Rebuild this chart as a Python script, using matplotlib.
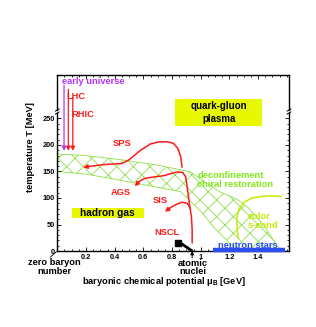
import numpy as np
import matplotlib
matplotlib.use("Agg")
import matplotlib.pyplot as plt
from matplotlib.patches import Rectangle

plt.rcParams['font.family'] = ['Liberation Sans', 'DejaVu Sans']
plt.rcParams['hatch.linewidth'] = 0.6
plt.rcParams['mathtext.fontset'] = 'custom'
plt.rcParams['mathtext.bf'] = 'Liberation Sans:bold'
plt.rcParams['mathtext.rm'] = 'Liberation Sans'

# ---- data (mu_B in GeV, T in MeV) ----
band_up_mu = [0, 0.2, 0.45, 0.7, 0.93, 1.03, 1.13, 1.25, 1.33, 1.44, 1.52, 1.56]
band_up_T = [183, 180, 172, 162, 149, 130, 112, 98, 82, 48, 15, 0]
band_lo_mu = [0, 0.2, 0.45, 0.7, 0.86, 1.0, 1.09, 1.2, 1.27]
band_lo_T = [150, 145, 133, 120, 112, 75, 45, 15, 0]

sps_mu = [0.87, 0.86, 0.84, 0.81, 0.77, 0.71, 0.65, 0.58, 0.50, 0.45, 0.32, 0.18]
sps_T = [158, 178, 194, 203, 206, 206, 202, 190, 172, 165, 163, 158]
ags_mu = [0.925, 0.91, 0.895, 0.875, 0.835, 0.79, 0.74, 0.68, 0.61, 0.57, 0.54]
ags_T = [80, 112, 140, 148, 149, 146, 142, 140, 137, 131, 122]
sis_mu = [0.94, 0.94, 0.935, 0.925, 0.905, 0.87, 0.83, 0.79, 0.75]
sis_T = [15, 40, 65, 82, 90, 92, 88, 82, 74]
nscl_mu = [0.84, 0.87, 0.935]
nscl_T = [15, 13, 1]

csc_mu = [1.56, 1.45, 1.36, 1.30, 1.265, 1.25, 1.255, 1.26]
csc_T = [103, 104, 100, 92, 78, 60, 40, 25]
ns_mu = [1.085, 1.59]
ns_T = [1.5, 1.5]

early_mu = [0.047, 0.047]
early_T = [313, 189]
lhc_mu = [0.077, 0.077]
lhc_T = [305, 189]
rhic_mu = [0.108, 0.108]
rhic_T = [290, 189]

yticks = [0, 50, 100, 150, 200, 250]
xticks = [0.2, 0.4, 0.6, 0.8, 1.0, 1.2, 1.4]
xticklabels = ['0.2', '0.4', '0.6', '0.8', '1', '1.2', '1.4']

RED = '#ff1a1a'
PURPLE = '#b233ff'
GREEN = '#8de04a'
GTEXT = '#80e81a'
YGREEN = '#c4ec00'
YELLOW = '#e8f800'
BLUE = '#2a4ef0'

fig = plt.figure(figsize=(3.16, 3.27), dpi=100)
ax = fig.add_axes([0.1813, 0.2324, 0.7332, 0.5382])
ax.set_xlim(0, 1.615)
ax.set_ylim(0, 332)

# hatched band
poly_mu = list(band_up_mu) + list(band_lo_mu[::-1])
poly_T = list(band_up_T) + list(band_lo_T[::-1])
ax.fill(poly_mu, poly_T, facecolor='none', edgecolor=GREEN, hatch='xx', linewidth=0.6)

fs = 6.7
bold = dict(fontweight='bold', fontsize=fs)

# yellow boxes
ax.add_patch(Rectangle((0.10, 62), 0.505, 19, facecolor=YELLOW, edgecolor='none', zorder=2))
ax.text(0.352, 71.5, 'hadron gas', ha='center', va='center', fontsize=7.3, fontweight='bold', zorder=3)
ax.add_patch(Rectangle((0.82, 236), 0.61, 51, facecolor=YELLOW, edgecolor='none', zorder=2))
ax.text(1.125, 262, 'quark-gluon\nplasma', ha='center', va='center', fontsize=7.0,
        fontweight='bold', linespacing=1.4, zorder=3)

def traj(mu, T, color, lw=1.1):
    ax.plot(mu[:-1], T[:-1], color=color, lw=lw, solid_capstyle='round', zorder=4)
    ax.annotate('', xy=(mu[-1], T[-1]), xytext=(mu[-2], T[-2]),
                arrowprops=dict(arrowstyle='-|>', color=color, lw=lw, mutation_scale=6,
                                shrinkA=0, shrinkB=0), zorder=4)

traj(sps_mu, sps_T, RED)
traj(ags_mu, ags_T, RED)
traj(sis_mu, sis_T, RED)
traj(early_mu, early_T, PURPLE, lw=0.9)
traj(lhc_mu, lhc_T, RED, lw=0.9)
traj(rhic_mu, rhic_T, RED, lw=0.9)

ax.plot(nscl_mu, nscl_T, color='black', lw=2.0, zorder=4)
ax.plot(nscl_mu[0], nscl_T[0], marker='s', color='black', ms=4, zorder=5)

ax.plot(csc_mu, csc_T, color=YGREEN, lw=1.1, zorder=4)
ax.plot(ns_mu, ns_T, color=BLUE, lw=3.2, solid_capstyle='butt', zorder=4, clip_on=False)

ax.text(0.45, 202, 'SPS', color=RED, ha='center', va='center', **bold)
ax.text(0.445, 111, 'AGS', color=RED, ha='center', va='center', **bold)
ax.text(0.72, 96, 'SIS', color=RED, ha='center', va='center', **bold)
ax.text(0.765, 34, 'NSCL', color=RED, ha='center', va='center', **bold)
ax.text(0.033, 319, 'early universe', color=PURPLE, ha='left', va='center', **bold)
ax.text(0.062, 291, 'LHC', color=RED, ha='left', va='center', **bold)
ax.text(0.097, 258, 'RHIC', color=RED, ha='left', va='center', **bold)
ax.text(0.975, 143, 'deconfinement', color=GTEXT, ha='left', va='center', **bold)
ax.text(0.975, 125, 'chiral restoration', color=GTEXT, ha='left', va='center', **bold)
ax.text(1.33, 66, 'color', color=YGREEN, ha='left', va='center', **bold)
ax.text(1.33, 49, 's-cond', color=YGREEN, ha='left', va='center', **bold)
ax.text(1.12, 11, 'neutron stars', color=BLUE, ha='left', va='center', **bold)

ax.text(-0.02, -30, 'zero baryon\nnumber', ha='center', va='center', linespacing=0.9,
        clip_on=False, **bold)
ax.text(0.945, -32, 'atomic\nnuclei', ha='center', va='center', linespacing=0.85,
        clip_on=False, **bold)
ax.annotate('', xy=(0.94, 0), xytext=(0.94, -13),
            arrowprops=dict(arrowstyle='-|>', color='black', lw=0.7, mutation_scale=5,
                            shrinkA=0, shrinkB=0), annotation_clip=False)
ax.text(0.745, -58, r'baryonic chemical potential $\mathbf{\mu_B}$ [GeV]', ha='center',
        va='center', clip_on=False, **bold)
ax.text(-0.19, 196, 'temperature T [MeV]', rotation=90, ha='center', va='center',
        clip_on=False, **bold)

# axes / spines with breaks
for s in ['left', 'right']:
    ax.spines[s].set_visible(False)
for s in ['top', 'bottom']:
    ax.spines[s].set_linewidth(1.0)
brk_lo, brk_hi = 0.784, 0.801
for xa in (0, 1):
    ax.plot([xa, xa], [0, brk_lo], transform=ax.transAxes, color='black', lw=1.0, clip_on=False)
    ax.plot([xa, xa], [brk_hi, 1], transform=ax.transAxes, color='black', lw=1.0, clip_on=False)
    for yb in (brk_lo, brk_hi):
        ax.plot([xa - 0.008, xa + 0.008], [yb - 0.006, yb + 0.006], transform=ax.transAxes,
                color='black', lw=0.7, clip_on=False)
ax.plot([-0.03, -0.005], [-0.035, -0.005], transform=ax.transAxes, color='black', lw=0.6,
        clip_on=False)

ax.set_yticks(yticks)
ax.set_yticklabels([str(v) for v in yticks])
ax.set_yticks(np.arange(0, 251, 10), minor=True)
ax.set_xticks(xticks)
ax.set_xticklabels(xticklabels)
ax.set_xticks(np.arange(0, 1.615, 0.05), minor=True)
ax.tick_params(which='both', direction='in', left=True, right=True, top=True, bottom=True,
               width=0.6, labelsize=5.3, pad=2.0)
ax.tick_params(which='major', length=3)
ax.tick_params(which='minor', length=1.6)
for lab in ax.get_xticklabels() + ax.get_yticklabels():
    lab.set_fontweight('bold')

fig.savefig('out.png', dpi=100)
